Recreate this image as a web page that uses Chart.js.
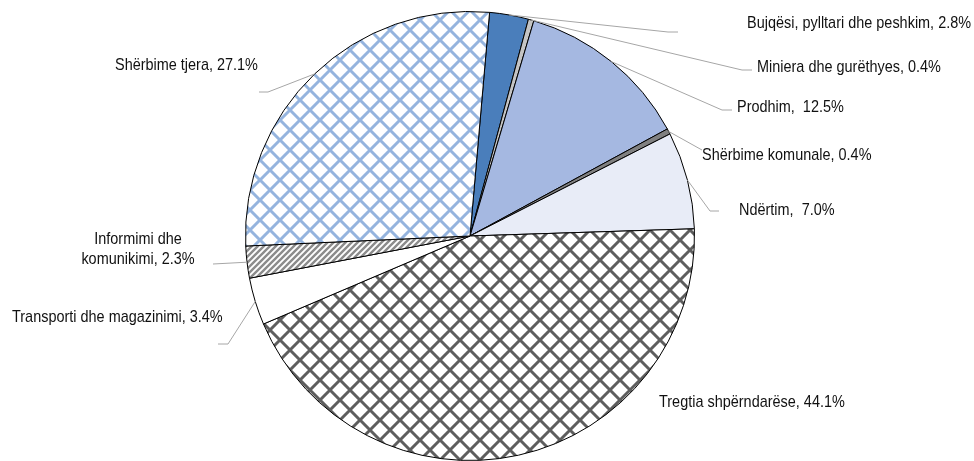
<!DOCTYPE html>
<html>
<head>
<meta charset="utf-8">
<script src="https://cdn.jsdelivr.net/npm/chart.js@4.4.1/dist/chart.umd.min.js"></script>
<style>
  html, body { margin: 0; padding: 0; background: #fff; overflow: hidden; }
  #wrap { width: 974px; height: 461px; position: relative; }
</style>
</head>
<body>
<div id="wrap"><canvas id="pie-chart"></canvas></div>
<script>
// sectors, clockwise from the top
const sectors = [
    'Bujqësi, pylltari dhe peshkim',
    'Miniera dhe gurëthyes',
    'Prodhim',
    'Shërbime komunale',
    'Ndërtim',
    'Tregtia shpërndarëse',
    'Transporti dhe magazinimi',
    'Informimi dhe komunikimi',
    'Shërbime tjera'
];
const shares = [2.8, 0.4, 12.5, 0.4, 7.0, 44.1, 3.4, 2.3, 27.1];
const separators = [', ', ', ', ',  ', ', ', ',  ', ', ', ', ', ', ', ', '];

// hatched fills like the original office chart
function crossHatch(color, size, width) {
    const c = document.createElement('canvas');
    c.width = size; c.height = size;
    const g = c.getContext('2d');
    g.fillStyle = '#fff';
    g.fillRect(0, 0, size, size);
    g.strokeStyle = color;
    g.lineWidth = width;
    g.filter = 'blur(0.6px)';
    g.beginPath();
    for (let k = -1; k <= 1; k++) {
        g.moveTo(-size, -size + k * size); g.lineTo(2 * size, 2 * size + k * size);
    }
    for (let k = 0; k <= 2; k++) {
        g.moveTo(-size, k * size + size); g.lineTo(2 * size, k * size - 2 * size);
    }
    g.stroke();
    return g.createPattern(c, 'repeat');
}
function stripes(color, size, width) {
    const c = document.createElement('canvas');
    c.width = size; c.height = size;
    const g = c.getContext('2d');
    g.fillStyle = '#fff';
    g.fillRect(0, 0, size, size);
    g.strokeStyle = color;
    g.lineWidth = width;
    g.beginPath();
    for (let k = 0; k <= 2; k++) {
        g.moveTo(-size, k * size + size); g.lineTo(2 * size, k * size - 2 * size);
    }
    g.stroke();
    return g.createPattern(c, 'repeat');
}

const fills = [
    '#4a7ebb',
    '#c4c4c4',
    '#a5b8e1',
    '#808080',
    '#e8ecf7',
    crossHatch('#5e5e5e', 20, 3),
    '#ffffff',
    stripes('#8c8c8c', 6, 2.4),
    crossHatch('#95b4de', 20, 3)
];

// label placement: text anchor, alignment, leader elbow + end
const labelLayout = [
    {x: 747, y: 28, align: 'left', elbow: [668, 32], end: [678, 32]},
    {x: 757, y: 72, align: 'left', elbow: [742, 70], end: [752, 70]},
    {x: 737, y: 112, align: 'left', elbow: [722, 110], end: [732, 110]},
    {x: 702, y: 160, align: 'left', elbow: [702, 150], end: [702, 150]},
    {x: 739, y: 215, align: 'left', elbow: [710, 211], end: [719, 211]},
    {x: 659, y: 407, align: 'left', elbow: null, end: null},
    {x: 12, y: 322, align: 'left', elbow: [228, 344], end: [218, 344]},
    {x: 138, y: 244, align: 'center', elbow: [213, 264], end: [213, 264], lines: ['Informimi dhe', 'komunikimi, ']},
    {x: 115, y: 70, align: 'left', elbow: [268, 92], end: [259, 92]}
];

const squeeze = 0.85;

const pieLabels = {
    id: 'pieLabels',
    afterDatasetsDraw(chart) {
        const ctx = chart.ctx;
        const arcs = chart.getDatasetMeta(0).data;
        ctx.save();
        arcs.forEach((arc, i) => {
            const L = labelLayout[i];
            if (L.elbow) {
                const mid = (arc.startAngle + arc.endAngle) / 2;
                const sx = arc.x + Math.cos(mid) * arc.outerRadius;
                const sy = arc.y + Math.sin(mid) * arc.outerRadius;
                ctx.strokeStyle = '#a6a6a6';
                ctx.lineWidth = 1;
                ctx.beginPath();
                ctx.moveTo(sx, sy);
                ctx.lineTo(L.elbow[0], L.elbow[1]);
                ctx.lineTo(L.end[0], L.end[1]);
                ctx.stroke();
            }
            const value = shares[i].toFixed(1) + '%';
            const lines = L.lines
                ? [L.lines[0], L.lines[1] + value]
                : [sectors[i] + separators[i] + value];
            ctx.fillStyle = '#111';
            ctx.font = '17px "Liberation Sans", Arial, sans-serif';
            ctx.textAlign = L.align;
            ctx.textBaseline = 'alphabetic';
            lines.forEach((t, j) => {
                ctx.save();
                ctx.translate(L.x, L.y + j * 20);
                ctx.scale(squeeze, 1);
                ctx.fillText(t, 0, 0);
                ctx.restore();
            });
        });
        ctx.restore();
    }
};

const chart = new Chart(document.getElementById('pie-chart'), {
    type: 'pie',
    data: {
        labels: sectors,
        datasets: [{
            data: shares,
            backgroundColor: fills,
            borderColor: '#000',
            borderWidth: 1
        }]
    },
    options: {
        responsive: true,
        maintainAspectRatio: false,
        animation: false,
        rotation: 5,
        layout: {padding: {top: 11, bottom: -5, left: 0, right: 34}},
        plugins: {
            legend: {display: false},
            tooltip: {enabled: false}
        },
        events: []
    },
    plugins: [pieLabels]
});
</script>
</body>
</html>
